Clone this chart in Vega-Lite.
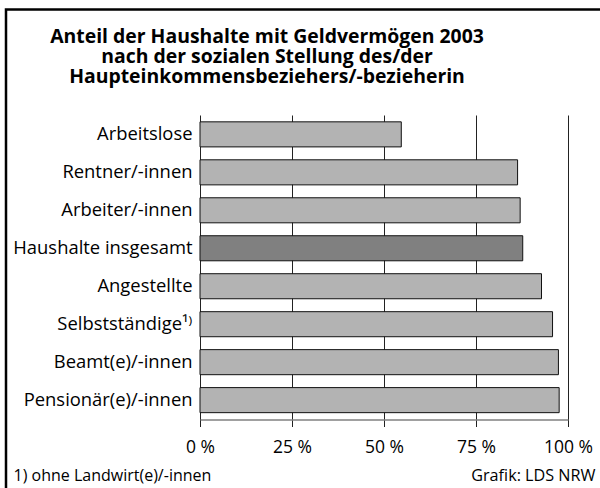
{
  "$schema": "https://vega.github.io/schema/vega-lite/v6.json",
  "width": 594,
  "height": 515.5,
  "autosize": {"type": "none"},
  "padding": {"left": 6, "top": 9.5, "right": 0, "bottom": -37},
  "background": "white",
  "title": {
    "text": ["Anteil der Haushalte mit Geldvermögen 2003", "nach der sozialen Stellung des/der", "Haupteinkommensbeziehers/-bezieherin"],
    "font": "Open Sans",
    "fontSize": 19.4,
    "fontWeight": "bold",
    "lineHeight": 20,
    "color": "black",
    "anchor": "middle",
    "frame": "group",
    "baseline": "top",
    "dx": -36,
    "offset": -78
  },
  "data": {
    "values": [
      {"kategorie": "Arbeitslose", "anteil": 54.7, "typ": "einzeln"},
      {"kategorie": "Rentner/-innen", "anteil": 86.3, "typ": "einzeln"},
      {"kategorie": "Arbeiter/-innen", "anteil": 87.0, "typ": "einzeln"},
      {"kategorie": "Haushalte insgesamt", "anteil": 87.7, "typ": "gesamt"},
      {"kategorie": "Angestellte", "anteil": 92.8, "typ": "einzeln"},
      {"kategorie": "Selbstständige¹⁾", "anteil": 95.8, "typ": "einzeln"},
      {"kategorie": "Beamt(e)/-innen", "anteil": 97.4, "typ": "einzeln"},
      {"kategorie": "Pensionär(e)/-innen", "anteil": 97.6, "typ": "einzeln"}
    ]
  },
  "mark": {"type": "bar", "stroke": "#111", "strokeWidth": 1},
  "encoding": {
    "y": {
      "field": "kategorie",
      "type": "nominal",
      "sort": ["Arbeitslose", "Rentner/-innen", "Arbeiter/-innen", "Haushalte insgesamt", "Angestellte", "Selbstständige¹⁾", "Beamt(e)/-innen", "Pensionär(e)/-innen"],
      "scale": {"range": [105.5, 410], "paddingInner": 0.34, "paddingOuter": 0.18},
      "axis": {
        "offset": -194,
        "domain": false,
        "ticks": false,
        "grid": false,
        "labelPadding": 8,
        "labelFont": "Open Sans",
        "labelFontSize": 18.4,
        "labelColor": "black",
        "title": "Grafik: LDS NRW",
        "titleAngle": 0,
        "titleX": 395,
        "titleY": 470.5,
        "titleAlign": "right",
        "titleBaseline": "alphabetic",
        "titleFont": "Open Sans",
        "titleFontSize": 16.2,
        "titleFontWeight": "normal",
        "titleColor": "black"
      }
    },
    "x": {
      "field": "anteil",
      "type": "quantitative",
      "scale": {"domain": [0, 100], "range": [194, 562], "nice": false, "zero": true},
      "axis": {
        "offset": -105.5,
        "values": [0, 25, 50, 75, 100],
        "labelExpr": "datum.value + ' %'",
        "grid": true,
        "gridColor": "#222",
        "gridWidth": 1,
        "domain": true,
        "domainColor": "#808080",
        "domainWidth": 1.5,
        "ticks": true,
        "tickColor": "#222",
        "tickSize": 7,
        "tickWidth": 1,
        "labelPadding": 12,
        "labelFont": "Open Sans",
        "labelFontSize": 17.5,
        "labelColor": "black",
        "labelFlush": false,
        "title": "1) ohne Landwirt(e)/-innen",
        "titleX": 7,
        "titleY": 60.5,
        "titleAlign": "left",
        "titleBaseline": "alphabetic",
        "titleFont": "Open Sans",
        "titleFontSize": 16,
        "titleFontWeight": "normal",
        "titleColor": "black"
      }
    },
    "color": {
      "field": "typ",
      "type": "nominal",
      "scale": {"domain": ["einzeln", "gesamt"], "range": ["#b3b3b3", "#808080"]},
      "legend": null
    }
  },
  "config": {
    "view": {"stroke": "black", "strokeWidth": 2.5, "strokeDash": [594, 1109.5, 515.5], "fill": null}
  }
}
